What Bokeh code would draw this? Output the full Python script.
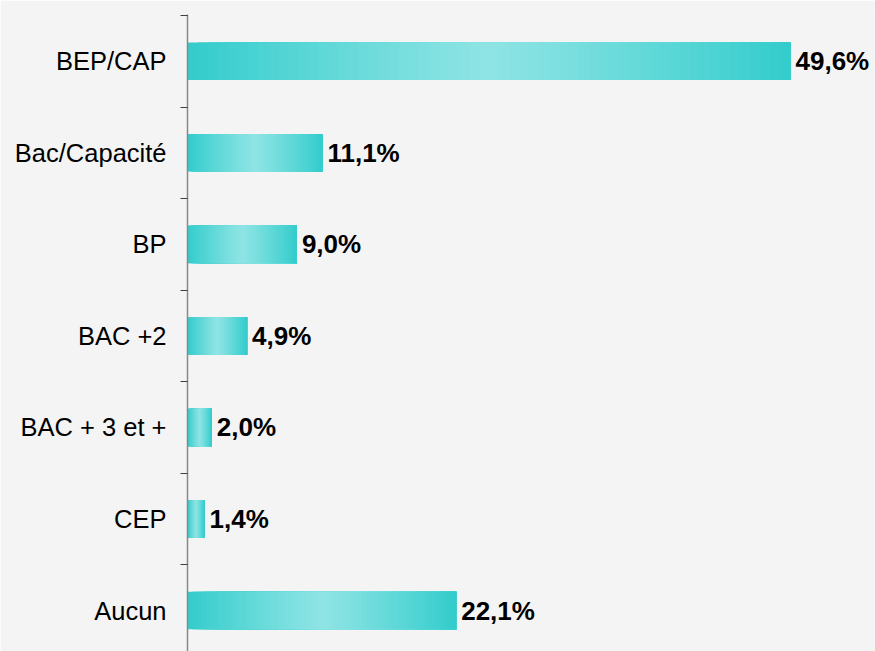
from bokeh.plotting import figure
from bokeh.models import Range1d, FixedTicker, ColumnDataSource
from bokeh.core.properties import value
from bokeh.embed import file_html
from bokeh.resources import INLINE

categories = ["BEP/CAP", "Bac/Capacité", "BP", "BAC +2", "BAC + 3 et +", "CEP", "Aucun"]
values = [49.6, 11.1, 9.0, 4.9, 2.0, 1.4, 22.1]

n = len(categories)
ypos = [n - 1 - i for i in range(n)]
boundaries = [k + 0.5 for k in range(n - 1, -2, -1)]

BG = "#f4f4f4"
W, H = 875, 651
left_border, top_border = 187, 15
px_per_unit = 12.157
unit_px = 91.4
frame_w = W - left_border
frame_h = H - top_border
p = figure(width=W, height=H, output_backend="svg", toolbar_location=None,
           x_axis_type=None,
           x_range=Range1d(0, frame_w / px_per_unit),
           y_range=Range1d(6.5 - frame_h / unit_px + 0.011, 6.511),
           min_border_left=left_border, min_border_right=0,
           min_border_top=top_border - 1, min_border_bottom=0)
p.background_fill_color = BG
p.border_fill_color = BG
p.outline_line_color = None
p.grid.visible = False

# gradient bars built from overlapping slices (each runs to the bar's end)
edge = (51, 204, 204)
mid = (143, 228, 228)
N = 60
ls, rs, ys, cs = [], [], [], []
for y, v in zip(ypos, values):
    for i in range(N):
        t = abs((i + 0.5) / N - 0.5) * 2  # 0 center, 1 edge
        t = t ** 1.1
        c = tuple(int(round(mid[k] + (edge[k] - mid[k]) * t)) for k in range(3))
        ls.append(v * i / N)
        rs.append(v)
        ys.append(y)
        cs.append("#%02x%02x%02x" % c)
src = ColumnDataSource(dict(left=ls, right=rs, y=ys, color=cs))
p.hbar(y="y", left="left", right="right", height=0.41, fill_color="color",
       line_color=None, source=src)

labels = [f"{v:.1f}".replace(".", ",") + "%" for v in values]
lsrc = ColumnDataSource(dict(x=values, y=ypos, t=labels))
p.text(x="x", y="y", text="t", source=lsrc, x_offset=5,
       text_font=value("Liberation Sans"), text_font_style="bold",
       text_font_size="26px", text_baseline="middle", text_align="left",
       text_color="black")

ax = p.yaxis[0]
ax.ticker = FixedTicker(ticks=ypos, minor_ticks=boundaries)
ax.major_label_overrides = {y: c for y, c in zip(ypos, categories)}
ax.major_tick_line_color = None
ax.major_tick_in = 0
ax.major_tick_out = 0
ax.minor_tick_in = 0
ax.minor_tick_out = 7
ax.minor_tick_line_color = "#404040"
ax.axis_line_color = "#888888"
ax.axis_line_width = 1.5
ax.major_label_standoff = 14
ax.major_label_text_font = "Liberation Sans"
ax.major_label_text_font_size = "25.5px"
ax.major_label_text_color = "black"

open("out.html", "w").write(file_html(p, INLINE))
